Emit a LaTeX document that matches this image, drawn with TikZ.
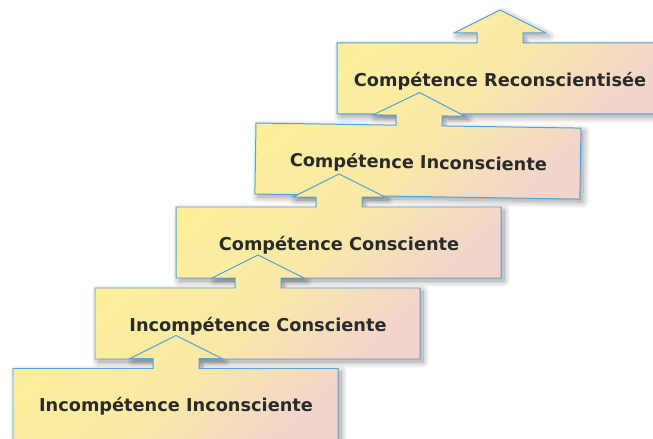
\documentclass[tikz,border=0pt]{standalone}
\usepackage{fontspec}
\setmainfont{DejaVu Sans}
\usetikzlibrary{shadows.blur}

\definecolor{stageYellow}{HTML}{FCEF9C}
\definecolor{stagePink}{HTML}{F2D5CA}
\definecolor{stageLine}{HTML}{55A3DA}
\definecolor{stageText}{HTML}{2A2A2A}

\tikzset{
  stageshadow/.style={
    blur shadow={shadow xshift=3bp, shadow yshift=-3bp,
      shadow blur radius=6.5bp, shadow blur steps=16, shadow opacity=40}},
  stageshape/.style={draw=stageLine, line width=1pt, line join=miter,
    left color=stageYellow, right color=stagePink,
    middle color=stageYellow!78!stagePink, shading angle=42},
  stagelabel/.style={text=stageText, font=\bfseries\fontsize{17.8}{21}\selectfont,
    inner sep=0pt},
}

% Outline of one step: a box with an up arrow on its top edge.
\newcommand{\stageoutline}{(0,0) -- (140,0) -- (140,-10) -- (117,-10) -- (163,-33)
  -- (209,-10) -- (186,-10) -- (186,0) -- (325,0) -- (325,71) -- (0,71) -- cycle}

% Shadow pass: #1,#2 top-left corner, #3 rotation
\newcommand{\stageshadowat}[3]{%
  \begin{scope}[shift={(#1,#2)}, rotate=#3]
    \path[stageshadow] \stageoutline;
  \end{scope}
}

% Box pass: #1,#2 top-left corner, #3 rotation, #4 node name, #5 label
\newcommand{\stagebox}[5]{%
  \begin{scope}[shift={(#1,#2)}, rotate=#3]
    \path[stageshape] \stageoutline;
    \node[stagelabel, rotate=#3] (#4) at (163,38) {#5};
  \end{scope}
}

\begin{document}
\begin{tikzpicture}[x=1bp, y=-1bp]
  \useasboundingbox (0,0) rectangle (653,439);
  \clip (0,0) rectangle (653,439);
  % soft shadows underneath everything
  \stageshadowat{337}{43}{0}
  \stageshadowat{256}{123}{-0.9}
  \stageshadowat{176}{207}{0}
  \stageshadowat{95}{288}{0}
  \stageshadowat{13}{368.5}{0}
  % the steps, top first so each arrow lies over the step above
  \stagebox{337}{43}{0}{s5}{Compétence Reconscientisée}
  \stagebox{256}{123}{-0.9}{s4}{Compétence Inconsciente}
  \stagebox{176}{207}{0}{s3}{Compétence Consciente}
  \stagebox{95}{288}{0}{s2}{Incompétence Consciente}
  \stagebox{13}{368.5}{0}{s1}{Incompétence Inconsciente}
\end{tikzpicture}
\end{document}
